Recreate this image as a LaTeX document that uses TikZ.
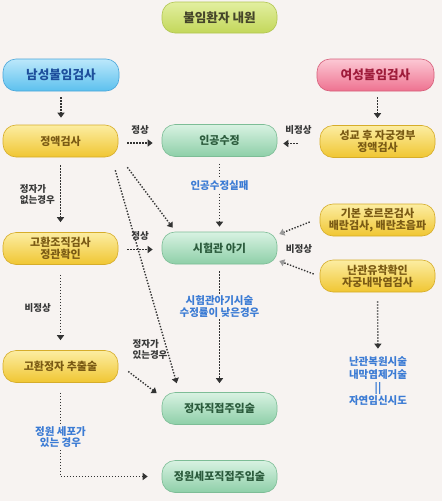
\documentclass[tikz,border=0pt]{standalone}
\usepackage{fontspec}
\setmainfont{Noto Sans CJK KR}
\usetikzlibrary{arrows.meta,calc}
\definecolor{bg}{HTML}{F7F3F1}
\definecolor{gtop}{HTML}{E2EFA0}\definecolor{gbot}{HTML}{C3D75A}\definecolor{gbd}{HTML}{B2C652}\definecolor{gtx}{HTML}{45452A}
\definecolor{btop}{HTML}{BCE8FB}\definecolor{bbot}{HTML}{5CC0EE}\definecolor{bbd}{HTML}{4AA6DA}\definecolor{btx}{HTML}{1E4F9C}
\definecolor{ptop}{HTML}{FCC8D4}\definecolor{pbot}{HTML}{EE7290}\definecolor{pbd}{HTML}{D65E7A}\definecolor{ptx}{HTML}{9E1B3A}
\definecolor{ytop}{HTML}{FCEDA2}\definecolor{ybot}{HTML}{F0C632}\definecolor{ybd}{HTML}{D6AD2A}\definecolor{ytx}{HTML}{7A5A14}
\definecolor{etop}{HTML}{D8F2E2}\definecolor{ebot}{HTML}{8ECFA8}\definecolor{ebd}{HTML}{7DBD96}\definecolor{etx}{HTML}{2B5B3C}
\definecolor{blab}{HTML}{3B7BD4}\definecolor{klab}{HTML}{383838}\definecolor{dotc}{HTML}{333333}\definecolor{gtip}{HTML}{999999}
\tikzset{
  box/.style={rounded corners=13pt, minimum width=115pt, minimum height=32pt, inner sep=0pt, align=center,
    font=\fontsize{11}{12.2}\selectfont\bfseries, line width=0.6pt},
  hbox/.style={box, font=\fontsize{12.6}{14}\selectfont\bfseries},
  gbox/.style={hbox, draw=gbd, top color=gtop, bottom color=gbot, text=gtx},
  bbox/.style={hbox, draw=bbd, top color=btop, bottom color=bbot, text=btx},
  pbox/.style={hbox, draw=pbd, top color=ptop, bottom color=pbot, text=ptx},
  ybox/.style={box, draw=ybd, top color=ytop, bottom color=ybot, text=ytx},
  ebox/.style={box, draw=ebd, top color=etop, bottom color=ebot, text=etx},
  klabel/.style={font=\fontsize{9.5}{11}\selectfont\bfseries, text=klab, inner sep=1pt},
  blabel/.style={font=\fontsize{10.5}{11.8}\selectfont\bfseries, text=blab, inner sep=2pt, align=center},
  dots/.style={draw=dotc, line width=1.4pt, dash pattern=on 1.4pt off 1.6pt},
  arr/.style={dots, -{Triangle[width=7pt,length=5pt,color=dotc]}},
  garr/.style={dots, -{Triangle[width=7pt,length=5pt,color=gtip]}}
}
\begin{document}
\begin{tikzpicture}[x=1pt,y=-1pt]
\fill[bg] (0,0) rectangle (442,501);
\useasboundingbox (0,0) rectangle (442,501);

\node[gbox, minimum height=31pt] (top) at (219.5,17.5) {불임환자 내원};
\node[bbox, minimum width=116pt] (male) at (61,75) {남성불임검사};
\node[pbox, minimum width=117pt] (female) at (375.5,75) {여성불임검사};
\node[ybox] (sperm) at (60.5,141) {정액검사};
\node[ebox] (ai) at (219.5,140.5) {인공수정};
\node[ybox] (pc) at (377.5,141.5) {성교 후 자궁경부\\정액검사};
\node[ybox] (tb) at (60.5,248.5) {고환조직검사\\정관확인};
\node[ebox] (ivf) at (219.5,248) {시험관 아기};
\node[ybox] (hormone) at (377.5,220) {기본 호르몬검사\\배란검사, 배란초음파};
\node[ybox] (tubal) at (377.5,276) {난관유착확인\\자궁내막염검사};
\node[ybox] (tese) at (60.5,366.5) {고환정자 추출술};
\node[ebox] (icsi) at (219.5,408.5) {정자직접주입술};
\node[ebox] (ros) at (219.5,476.5) {정원세포직접주입술};
\node[font=\fontsize{10.5}{12.8}\selectfont\bfseries, text=blab, align=center, inner sep=0pt] (nat) at (378,381)
  {난관복원시술\\내막염제거술\\||\\자연임신시도};

% connectors
\draw[arr, shorten <=6pt, shorten >=7pt] (male.south) -- (male.south |- sperm.north);
\draw[arr, shorten <=6pt, shorten >=7pt] (pc.north |- female.south) -- (pc.north);
\draw[arr, shorten <=9pt, shorten >=9pt] ([yshift=-2pt]sperm.east) -- node[klabel, above=7pt] {정상} ([yshift=-2pt]sperm.east -| ai.west);
\draw[arr, shorten <=22pt, shorten >=6pt] ([yshift=-2pt]pc.west) -- node[klabel, above=7pt] {비정상} ([yshift=-2pt]pc.west -| ai.east);
\draw[arr, shorten <=7pt, shorten >=5pt] (ai.south) -- node[blabel, pos=0.38, fill=bg] {인공수정실패} (ivf.north);
\draw[arr, shorten <=8pt, shorten >=10pt] (sperm.south) -- node[klabel, left=4pt, align=left] {정자가\\없는경우} (tb.north);
\draw[arr, shorten <=9pt, shorten >=9pt] ([yshift=-1pt]tb.east) -- node[klabel, above=7pt] {정상} ([yshift=-1pt]tb.east -| ivf.west);
\draw[garr] ($(hormone.west)+(-10,2)$) -- ($(ivf.east)+(2,-14)$);
\draw[garr] ($(tubal.west)+(-6,-2)$) -- ($(ivf.east)+(2,13)$);
\node[klabel] (abn) at (299,249) {비정상};
\draw[arr, shorten <=7pt, shorten >=9pt] (ivf.south) -- node[blabel, pos=0.33, fill=bg] {시험관아기시술\\수정률이 낮은경우} (icsi.north);
\draw[arr, shorten <=10pt, shorten >=10pt] (tb.south) -- node[klabel, left=8pt] {비정상} (tese.north);
\draw[arr, shorten <=10pt, shorten >=14pt] (tese.south) -- node[blabel, pos=0.58, fill=bg] {정원 세포가\\있는 경우} (tese.south |- ros.west) -- (ros.west);
\draw[arr] ($(sperm.south east)+(9,10)$) -- ($(ivf.north west)+(11,-4)$);
\draw[arr] ($(sperm.south east)+(-3,13)$) -- ($(icsi.north west)+(15,-9)$);
\draw[arr] ($(tese.east)+(10,5)$) -- ($(icsi.north west)+(-5,1)$);
\node[klabel, align=left] (yes) at (150,349) {정자가\\있는경우};
\draw[arr, shorten <=9pt, shorten >=8pt] (tubal.south) -- (nat.north);
\end{tikzpicture}
\end{document}
